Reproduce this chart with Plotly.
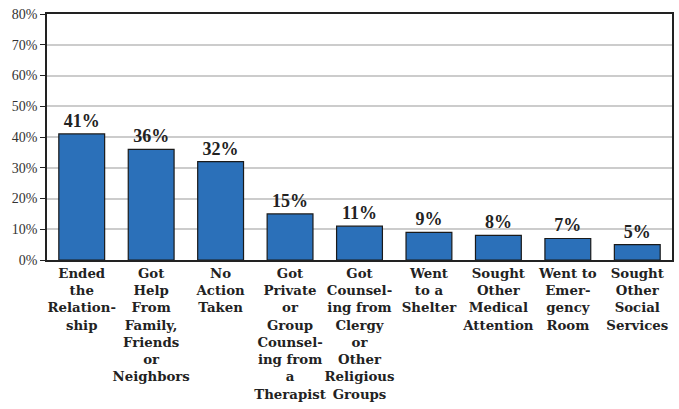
import plotly.graph_objects as go

categories = [
    "Ended<br>the<br>Relation-<br>ship",
    "Got<br>Help<br>From<br>Family,<br>Friends<br>or<br>Neighbors",
    "No<br>Action<br>Taken",
    "Got<br>Private<br>or<br>Group<br>Counsel-<br>ing from<br>a<br>Therapist",
    "Got<br>Counsel-<br>ing from<br>Clergy<br>or<br>Other<br>Religious<br>Groups",
    "Went<br>to a<br>Shelter",
    "Sought<br>Other<br>Medical<br>Attention",
    "Went to<br>Emer-<br>gency<br>Room",
    "Sought<br>Other<br>Social<br>Services",
]
values = [41, 36, 32, 15, 11, 9, 8, 7, 5]
value_labels = ["41%", "36%", "32%", "15%", "11%", "9%", "8%", "7%", "5%"]
y_ticks = [0, 10, 20, 30, 40, 50, 60, 70, 80]
y_tick_labels = ["0%", "10%", "20%", "30%", "40%", "50%", "60%", "70%", "80%"]

serif = "Liberation Serif, Times New Roman, serif"
wide_serif = "DejaVu Serif, serif"

fig = go.Figure(go.Bar(
    x=[f"<b>{c}</b>" for c in categories],
    y=values,
    text=[f"<b>{t}</b>" for t in value_labels],
    textposition="outside",
    textfont=dict(family=serif, size=18, color="#222222"),
    marker=dict(color="#2B70B9", line=dict(color="#1a1a1a", width=1.2)),
    width=0.66,
    cliponaxis=False,
))

fig.update_layout(
    width=679, height=409,
    margin=dict(l=47, r=7, t=14, b=149),
    paper_bgcolor="white", plot_bgcolor="white",
    showlegend=False,
    xaxis=dict(
        showline=True, linecolor="#222222", linewidth=1.5, mirror=True,
        tickfont=dict(family=wide_serif, size=13.3, color="#222222"),
        ticks="", tickangle=0, automargin=False,
    ),
    yaxis=dict(
        range=[0, 80], tickvals=y_ticks, ticktext=y_tick_labels,
        showline=True, linecolor="#222222", linewidth=1.5, mirror=True,
        showgrid=True, gridcolor="#cccccc", gridwidth=1.5,
        ticks="outside", ticklen=5, tickcolor="#222222",
        tickfont=dict(family=serif, size=14, color="#333333"),
        zeroline=False, automargin=False,
    ),
)

fig.write_html("out.html", config={"displayModeBar": False},
               post_script="document.body.style.margin='0';")
